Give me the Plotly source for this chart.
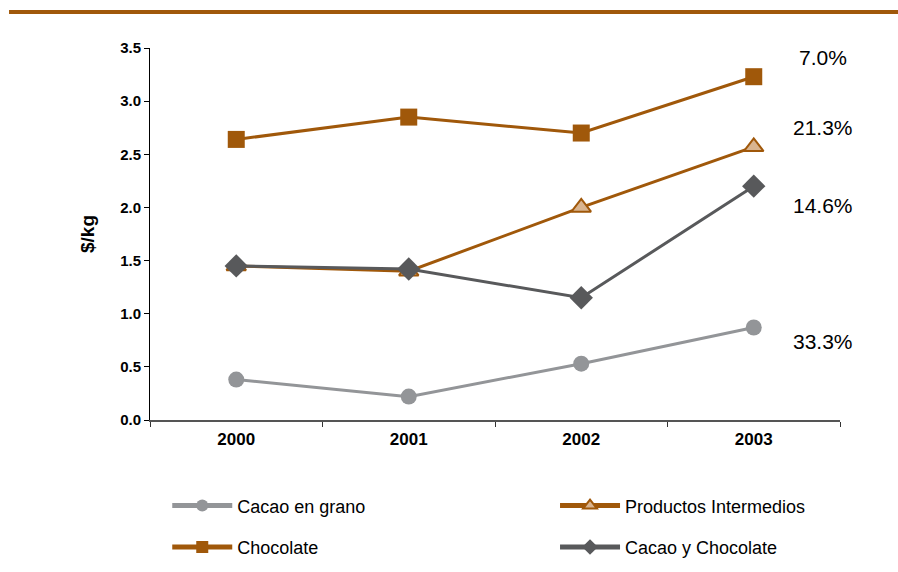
import plotly.graph_objects as go

# --- data -------------------------------------------------------------
years = ["2000", "2001", "2002", "2003"]
cacao_en_grano = [0.38, 0.22, 0.53, 0.87]
chocolate = [2.64, 2.85, 2.70, 3.23]
productos_intermedios = [1.45, 1.40, 2.00, 2.57]
cacao_y_chocolate = [1.45, 1.42, 1.15, 2.20]

growth_labels = ["7.0%", "21.3%", "14.6%", "33.3%"]
growth_label_y = [3.415, 2.756, 2.02, 0.743]

y_ticks = [0.0, 0.5, 1.0, 1.5, 2.0, 2.5, 3.0, 3.5]

# --- styles -----------------------------------------------------------
BROWN = "#A0580A"
TAN = "#D9B48F"
DARK = "#58595B"
GREY = "#939598"
FONT = "Arial, Liberation Sans, sans-serif"

fig = go.Figure()

fig.add_trace(go.Scatter(
    x=years, y=cacao_en_grano, name="Cacao en grano", mode="lines+markers",
    line=dict(color=GREY, width=3),
    marker=dict(symbol="circle", size=16, color=GREY),
    legend="legend", legendgroup="a",
))
fig.add_trace(go.Scatter(
    x=years, y=productos_intermedios, name="Productos Intermedios", mode="lines+markers",
    line=dict(color=BROWN, width=3),
    marker=dict(symbol="triangle-up", size=17, color=TAN, line=dict(color=BROWN, width=2)),
    legend="legend2", legendgroup="c",
))
fig.add_trace(go.Scatter(
    x=years, y=chocolate, name="Chocolate", mode="lines+markers",
    line=dict(color=BROWN, width=3),
    marker=dict(symbol="square", size=17, color=BROWN),
    legend="legend", legendgroup="b",
))
fig.add_trace(go.Scatter(
    x=years, y=cacao_y_chocolate, name="Cacao y Chocolate", mode="lines+markers",
    line=dict(color=DARK, width=3),
    marker=dict(symbol="diamond", size=18, color=DARK),
    legend="legend2", legendgroup="d",
))

# growth rate labels to the right of the last year
for txt, yv in zip(growth_labels, growth_label_y):
    fig.add_annotation(x=3.4, y=yv, xref="x", yref="y", text=txt,
                       showarrow=False, font=dict(family=FONT, size=21, color="#000000"))

# decorative rule across the top
fig.add_shape(type="line", xref="paper", yref="paper",
              x0=-0.2043, x1=1.09, y0=1.0968, y1=1.0968,
              line=dict(color=BROWN, width=4))

legend_common = dict(
    font=dict(family=FONT, size=18, color="#000000"),
    bgcolor="rgba(0,0,0,0)", itemwidth=60, tracegroupgap=15,
    itemsizing="constant",
    xanchor="left", yanchor="top", orientation="v",
)

fig.update_layout(
    width=898, height=572,
    margin=dict(l=150, r=58, t=48, b=152, autoexpand=False),
    paper_bgcolor="white", plot_bgcolor="white",
    font=dict(family=FONT, color="#000000"),
    showlegend=True,
    legend=dict(x=0.025, y=-0.181, **legend_common),
    legend2=dict(x=0.587, y=-0.181, **legend_common),
    xaxis=dict(
        type="category", range=[-0.5, 3.5],
        showline=True, linecolor="#555555", linewidth=1.5,
        ticks="outside", tickson="boundaries", ticklen=5, tickcolor="#333333",
        ticklabelstandoff=3,
        showgrid=False, zeroline=False,
        tickfont=dict(family=FONT, size=17, color="#000000", weight="bold"),
    ),
    yaxis=dict(
        range=[0, 3.5], tickvals=y_ticks, tickformat=".1f",
        showline=True, linecolor="#000000", linewidth=1,
        ticks="outside", ticklen=5, tickcolor="#000000",
        showgrid=False, zeroline=False,
        tickfont=dict(family=FONT, size=15, color="#000000", weight="bold"),
        title=dict(text="$/kg", standoff=20,
                   font=dict(family=FONT, size=19, color="#000000", weight="bold")),
    ),
)

fig.write_html("out.html")
